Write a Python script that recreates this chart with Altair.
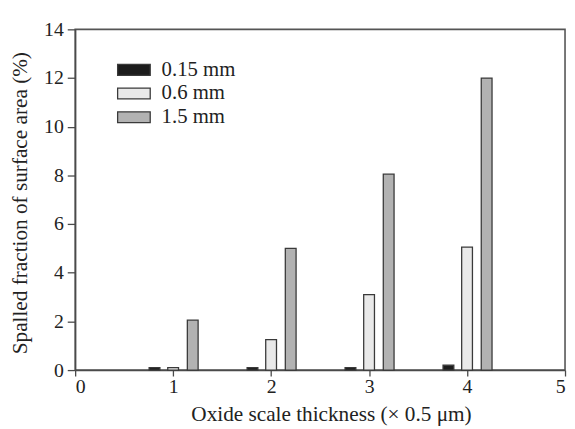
import altair as alt
import pandas as pd

thickness = [1, 2, 3, 4]
series = ["0.15 mm", "0.6 mm", "1.5 mm"]
offsets = [-0.19, 0.0, 0.2]
vals_015 = [0.1, 0.1, 0.1, 0.2]
vals_06 = [0.1, 1.25, 3.1, 5.05]
vals_15 = [2.05, 5.0, 8.05, 12.0]
colors = ["#1c1c1c", "#e9e9e9", "#b2b2b2"]
x_ticks = [0, 1, 2, 3, 4, 5]
y_ticks = [0, 2, 4, 6, 8, 10, 12, 14]

rows = []
for s, off, vals in zip(series, offsets, [vals_015, vals_06, vals_15]):
    for t, v in zip(thickness, vals):
        rows.append({"thickness": t, "series": s, "offset": off, "value": v})
df = pd.DataFrame(rows)

FONT = "Liberation Serif"
AX = "#4a4a4a"

chart = alt.Chart(df).transform_calculate(
    xa="datum.thickness + datum.offset - 0.055",
    xb="datum.thickness + datum.offset + 0.055",
).mark_bar(stroke="#3a3a3a", strokeWidth=1.3).encode(
    x=alt.X("xa:Q",
            scale=alt.Scale(domain=[0, 5], nice=False, zero=False),
            axis=alt.Axis(values=x_ticks, title="Oxide scale thickness (× 0.5 μm)",
                          tickSize=6, labelPadding=1, titleX=259, titleY=51,
                          titleFontSize=21.5,
                          titleBaseline="alphabetic", titleAlign="center")),
    x2="xb:Q",
    y=alt.Y("value:Q",
            scale=alt.Scale(domain=[0, 14], nice=False),
            axis=alt.Axis(values=y_ticks, title="Spalled fraction of surface area (%)",
                          tickSize=8, labelPadding=4, titleX=-49, titleY=175.5,
                          titleFontSize=21.5,
                          titleAngle=270, titleBaseline="alphabetic", titleAlign="center")),
    y2=alt.datum(0),
    color=alt.Color("series:N",
                    scale=alt.Scale(domain=series, range=colors),
                    legend=alt.Legend(title=None, orient="none", legendX=47.5, legendY=29,
                                      symbolType="M-1.5,-0.5H1.5V0.5H-1.5Z", symbolSize=484,
                                      symbolStrokeColor="#3a3a3a", symbolStrokeWidth=1.3,
                                      labelFont=FONT, labelFontSize=21, labelColor="#222",
                                      labelOffset=16, rowPadding=2, padding=0)),
).properties(
    width=496, height=345,
    autosize=alt.AutoSizeParams(type="none"),
    padding={"left": 68, "top": 19, "right": 2, "bottom": 54},
).configure_view(
    stroke="#555", strokeWidth=1.6
).configure_axis(
    grid=False, domainColor=AX, domainWidth=1.5, tickColor=AX, tickWidth=1.3,
    labelFont=FONT, labelFontSize=20, labelColor="#222",
    titleFont=FONT, titleColor="#222", titleFontWeight="normal",
)

chart.save("out.html", embed_options={"renderer": "svg", "actions": False})
